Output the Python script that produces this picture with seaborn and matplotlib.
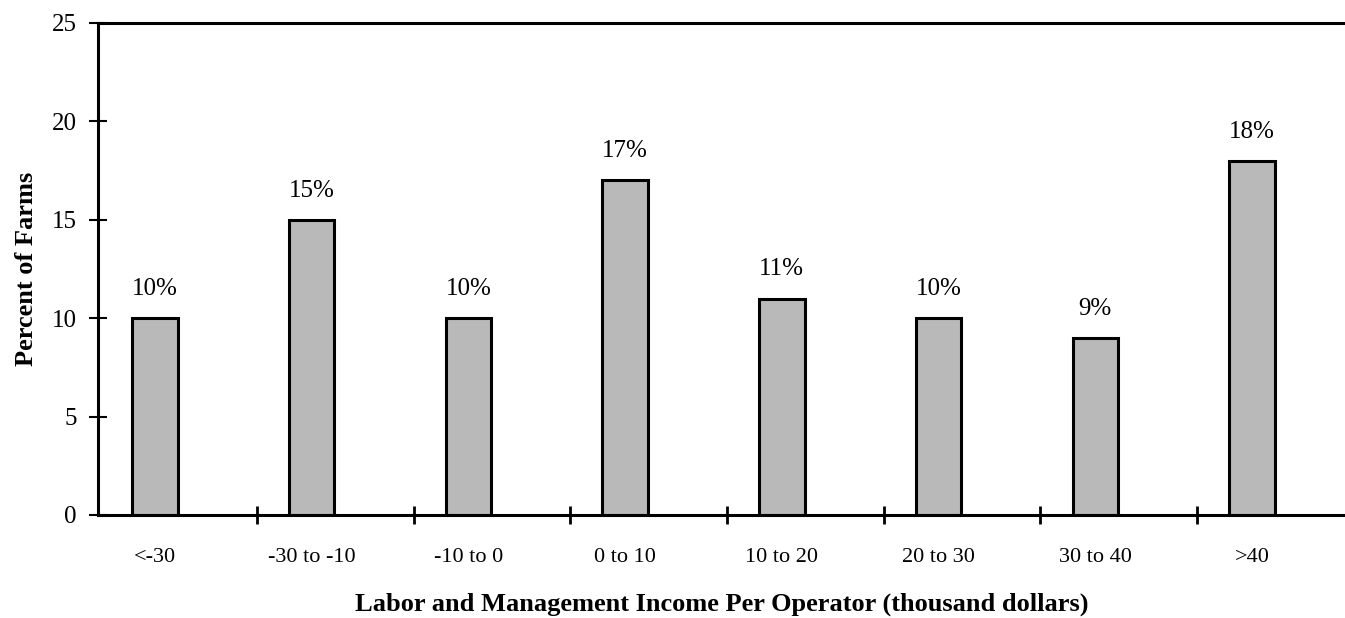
import numpy as np
import pandas as pd
import matplotlib.pyplot as plt
import seaborn as sns

categories = ['<-30', '-30 to -10', '-10 to 0', '0 to 10', '10 to 20', '20 to 30', '30 to 40', '>40']
percent = [10, 15, 10, 17, 11, 10, 9, 18]
bar_labels = ['10%', '15%', '10%', '17%', '11%', '10%', '9%', '18%']

df = pd.DataFrame({'Income': categories, 'Percent': percent})

sns.set_style('white')
plt.rcParams['font.family'] = ['Liberation Serif', 'DejaVu Serif']
plt.rcParams['text.color'] = 'black'
plt.rcParams['axes.labelcolor'] = 'black'
plt.rcParams['xtick.color'] = 'black'
plt.rcParams['ytick.color'] = 'black'

fig = plt.figure(figsize=(13.45, 6.18), dpi=100)
ax = fig.add_axes([0.0729, 0.1667, 0.9271, 0.7961])

sns.barplot(data=df, x='Income', y='Percent', color='#b9b9b9', width=0.29,
            edgecolor='black', linewidth=2.2, saturation=1, ax=ax)

for c in ax.containers:
    ax.bar_label(c, labels=bar_labels, padding=13, fontsize=18, color='black')

ax.set_xlim(-0.364, 7.594)
ax.set_ylim(0, 25)
ax.set_yticks([0, 5, 10, 15, 20, 25])

# separators between categories (none at the right edge)
ax.set_xticks(np.arange(len(categories) - 1) + 0.65, minor=True)
ax.tick_params(axis='x', which='minor', direction='inout', length=13, width=2, color='black', bottom=True)
ax.tick_params(axis='x', which='major', length=0, pad=24, labelsize=16)
ax.tick_params(axis='y', which='major', direction='inout', length=13, width=1.5, color='black',
               left=True, labelsize=18, pad=9)

for side in ['left', 'bottom', 'top']:
    ax.spines[side].set_color('black')
    ax.spines[side].set_linewidth(2.2)
ax.spines['right'].set_visible(False)

ax.set_xlabel('Labor and Management Income Per Operator (thousand dollars)',
              fontsize=19, fontweight='bold', labelpad=18)
ax.set_ylabel('Percent of Farms', fontsize=19, fontweight='bold', labelpad=10)

plt.savefig('out.png', dpi=100)
